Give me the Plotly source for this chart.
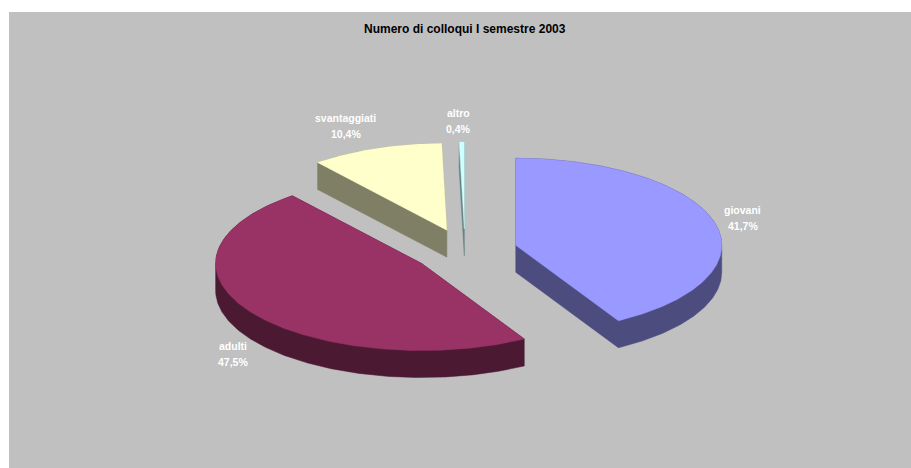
import numpy as np
import plotly.graph_objects as go

# ---- data ----
categories = ["giovani", "adulti", "svantaggiati", "altro"]
values = [41.7, 47.5, 10.4, 0.4]
title_text = "Numero di colloqui I semestre 2003"

# ---- style ----
top_colors = ["#9999FF", "#993366", "#FFFFCC", "#CCFFFF"]
side_colors = ["#4C4C7F", "#4C1933", "#7F7F66", "#667F7F"]
BG = "#C0C0C0"
W, H = 911, 468
CX, CY = 465, 251          # pie centre (pixels)
RX, RY = 206, 87           # ellipse radii
DEPTH = 27                 # pie thickness
EXPLODE = 0.255            # explosion factor
LABEL_R = 1.2
label_nudge = [(-12, 0), (15, 5), (-16, -6), (-3, -3)]
FONT = "Liberation Sans, Arial, sans-serif"


def hull(points):
    pts = sorted(set((round(p[0], 4), round(p[1], 4)) for p in points))
    if len(pts) < 3:
        return pts

    def cross(o, a, b):
        return (a[0] - o[0]) * (b[1] - o[1]) - (a[1] - o[1]) * (b[0] - o[0])

    lower, upper = [], []
    for p in pts:
        while len(lower) >= 2 and cross(lower[-2], lower[-1], p) <= 0:
            lower.pop()
        lower.append(p)
    for p in reversed(pts):
        while len(upper) >= 2 and cross(upper[-2], upper[-1], p) <= 0:
            upper.pop()
        upper.append(p)
    return lower[:-1] + upper[:-1]


total = float(sum(values))
fracs = [v / total for v in values]
starts = np.concatenate([[0.0], np.cumsum(fracs)[:-1]]) * 360.0
ends = np.cumsum(fracs) * 360.0

slices = []
for i, cat in enumerate(categories):
    a0, a1 = starts[i], ends[i]
    mid = np.radians((a0 + a1) / 2)
    ex = CX + EXPLODE * RX * np.sin(mid)
    ey = CY - EXPLODE * RY * np.cos(mid)
    n = max(3, int(np.ceil((a1 - a0) / 360 * 500)))
    th = np.radians(np.linspace(a0, a1, n))
    xs = ex + RX * np.sin(th)
    ys = ey - RY * np.cos(th)
    top = [(ex, ey)] + list(zip(xs, ys))
    bottom = [(x, y + DEPTH) for x, y in top]
    solid = hull(top + bottom)
    slices.append(dict(i=i, ex=ex, ey=ey, mid=mid, top=top, solid=solid))

fig = go.Figure()
for s in sorted(slices, key=lambda d: d["ey"]):
    i = s["i"]
    sx = [p[0] for p in s["solid"]] + [s["solid"][0][0]]
    sy = [p[1] for p in s["solid"]] + [s["solid"][0][1]]
    fig.add_trace(go.Scatter(x=sx, y=sy, mode="lines", fill="toself",
                             fillcolor=side_colors[i],
                             line=dict(color=side_colors[i], width=0.5),
                             hoverinfo="skip"))
    tx = [p[0] for p in s["top"]] + [s["top"][0][0]]
    ty = [p[1] for p in s["top"]] + [s["top"][0][1]]
    fig.add_trace(go.Scatter(x=tx, y=ty, mode="lines", fill="toself",
                             fillcolor=top_colors[i],
                             line=dict(color=top_colors[i], width=0.5),
                             name=categories[i], hoverinfo="skip"))

annotations = []
for s in slices:
    i = s["i"]
    m = s["mid"]
    lx = s["ex"] + LABEL_R * RX * np.sin(m) + label_nudge[i][0]
    ly = s["ey"] - LABEL_R * RY * np.cos(m) + label_nudge[i][1]
    if np.cos(m) < 0:
        ly += DEPTH
    pct = f"{values[i] / total * 100:.1f}".replace(".", ",") + "%"
    for txt, dy in ((categories[i], -8), (pct, 8)):
        annotations.append(dict(x=lx, y=ly + dy, text=f"<b>{txt}</b>",
                                showarrow=False, xref="x", yref="y",
                                font=dict(family=FONT, size=10.5, color="white"),
                                xanchor="center", yanchor="middle"))

annotations.append(dict(x=465, y=29, xref="x", yref="y", showarrow=False,
                        text=f"<b>{title_text}</b>",
                        font=dict(family=FONT, size=12, color="black"),
                        xanchor="center", yanchor="middle"))

fig.update_layout(
    width=W, height=H,
    margin=dict(l=9, r=0, t=12, b=0, pad=0),
    paper_bgcolor="white",
    plot_bgcolor=BG,
    showlegend=False,
    hovermode=False,
    annotations=annotations,
    xaxis=dict(range=[9, W], visible=False, fixedrange=True),
    yaxis=dict(range=[H, 12], visible=False, fixedrange=True),
)

fig.write_html("out.html", config={"displayModeBar": False})
